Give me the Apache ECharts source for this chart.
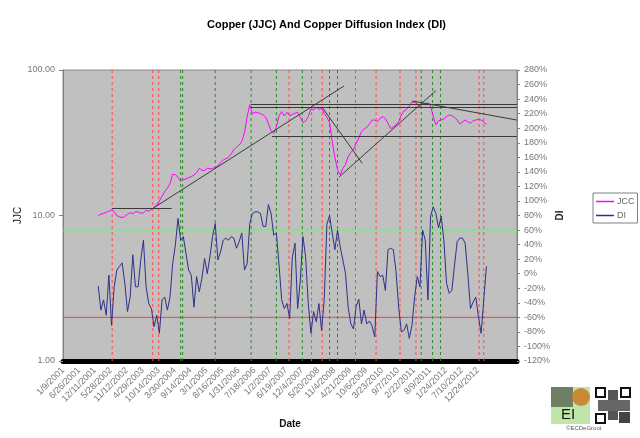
<!DOCTYPE html>
<html>
<head>
<meta charset="utf-8">
<script src="https://cdn.jsdelivr.net/npm/echarts@6/dist/echarts.min.js"></script>
<style>html,body{margin:0;padding:0;background:#fff}#c{width:640px;height:438px}</style>
</head>
<body>
<div id="c"></div>
<script>
// x-axis tick labels (one every 24 weekly rows)
const tickLabels = ['1/9/2001','6/26/2001','12/11/2001','5/28/2002','11/12/2002','4/29/2003','10/14/2003','3/30/2004','9/14/2004','3/1/2005','8/16/2005','1/31/2006','7/18/2006','1/2/2007','6/19/2007','12/4/2007','5/20/2008','11/4/2008','4/21/2009','10/6/2009','3/23/2010','9/7/2010','2/22/2011','8/9/2011','1/24/2012','7/10/2012','12/24/2012'];
const weeksPerLabel = 24;
const axisWeeks = 683;
const firstWeek = 53;   // week index of first sample
const stepWeeks = 4;    // sampling step (weeks)

// JCC price (left log axis)
const jcc = [9.98,10.2,10.35,10.5,10.7,10.9,10.6,9.98,9.8,9.66,
 9.87,10.2,10.45,10.3,10.6,10.6,10.35,10.45,10.85,10.7,
 11.0,11.4,11.8,12.6,13.6,14.6,15.4,16.6,19.2,19.1,
 18.3,17.2,17.7,17.8,18.2,18.5,19.0,19.7,21.1,20.5,
 20.3,21.2,20.9,21.1,21.4,21.9,23.1,24.0,
 24.6,25.1,26.5,28.4,29.4,30.5,32.3,37.1,47.8,57.8,
 49.8,51.4,50.9,50.1,49.1,47.3,43.0,38.3,36.7,40.4,
 48.5,51.7,48.3,51.2,48.5,49.6,50.4,51.2,47.3,43.5,
 44.6,47.8,54.2,53.1,55.5,53.7,54.5,50.4,47.3,43.5,
 32.2,25.1,20.7,19.0,21.0,22.5,25.4,27.1,28.5,31.3,34.0,
 37.7,39.3,40.4,42.6,45.3,45.3,44.1,46.5,47.8,46.3,
 43.0,39.5,40.8,41.9,44.1,49.1,52.3,53.7,56.6,60.3,
 59.9,58.4,56.0,59.0,57.5,59.6,56.6,47.8,41.9,44.9,
 45.3,46.0,47.8,49.1,48.5,47.3,45.3,42.6,43.9,45.3,
 44.1,43.0,44.9,45.3,45.8,45.3,43.9,42.3];

// Diffusion index, % (right axis)
const di = [-17,-50,-36,-57,-2,-71,-18,5,10,15,
 -13,-52,-32,26,-18,-18,19,46,-18,-41,
 -48,-73,-57,-82,-36,-32,-50,-32,14,39,
 76,46,51,28,5,-2,-46,-4,-25,-6,
 21,0,23,51,69,19,30,46,
 49,46,51,49,35,44,56,5,14,69,
 83,85,85,83,65,65,95,83,53,56,
 12,-36,-48,-41,-62,23,42,-48,-9,51,
 23,-41,-82,-52,-66,-41,-78,-36,68,80,
 56,33,60,37,19,0,-46,-69,-76,-45,-35,
 -69,-50,-69,-65,-72,-87,3,-4,-2,-23,
 33,35,33,3,-46,-80,-78,-69,-89,-71,
 -32,-4,-18,60,46,-36,79,92,83,63,
 79,46,-13,-27,-23,12,44,49,49,42,
 0,-48,-39,-32,-59,-82,-36,10];

// signal lines (week index)
const redSignals = [74,135,144,340,374,390,440,471,507,531,626,633];
const greenSignals = [177,180,229,283,321,360,401,413,539,556,568];
// DI threshold levels (%)
const upperLevel = 60, lowerLevel = -60;
const diMin = -120, diMax = 280;
// trend / level lines drawn on JCC: [week1, price1, week2, price2]
const trendLines = [
  [73.7,11.26,163.5,11.26],
  [136.1,11.26,422.6,77.6],
  [282.7,58.1,682.7,58.1],
  [282.7,55.5,682.7,55.5],
  [314.3,35.1,682.7,35.1],
  [389.9,55.3,450.1,22.85],
  [415.3,18.39,560.9,72.1],
  [525.3,61.2,682.7,45.3]
];

const font = 'Liberation Sans, Arial, sans-serif';
const chart = echarts.init(document.getElementById('c'), null, {renderer:'canvas'});

const jccData = jcc.map((v,i)=>[firstWeek+i*stepWeeks, v]);
const diData = di.map((v,i)=>[firstWeek+i*stepWeeks, v]);
const vertData = ws => ws.flatMap(w=>[[w,diMin],[w,diMax],[w,'-']]);
const horizData = lv => [[0,lv],[axisWeeks,lv]];

function guide(name, yIdx, data, style, z){
  return {name:name, type:'line', yAxisIndex:yIdx, data:data, symbol:'none', showSymbol:false, silent:true,
    connectNulls:false, lineStyle:style, z:z, tooltip:{show:false}};
}

chart.setOption({
  animation:false,
  backgroundColor:'#fff',
  textStyle:{fontFamily:font},
  title:{text:'Copper (JJC) And Copper Diffusion Index (DI)', left:202, top:14,
    textStyle:{fontSize:11, fontWeight:'bold', color:'#000', fontFamily:font}},
  grid:{left:63, right:123, top:70, bottom:77, show:true, backgroundColor:'#c0c0c0', borderColor:'#8a8a8a', borderWidth:1},
  legend:{data:['JCC','DI'], orient:'vertical', left:593, top:193, padding:[4,3,3,3], itemGap:5,
    itemWidth:18, itemHeight:1.5, icon:'rect', backgroundColor:'#fff', borderColor:'#808080', borderWidth:1,
    textStyle:{fontSize:9, color:'#666', fontFamily:font, padding:[0,0,0,-2]}},
  xAxis:{type:'value', min:0, max:axisWeeks, interval:weeksPerLabel,
    name:'Date', nameLocation:'middle', nameGap:58, nameMoveOverlap:false,
    nameTextStyle:{fontSize:10, fontWeight:'bold', color:'#111', fontFamily:font},
    axisLine:{show:true, onZero:false, lineStyle:{color:'#000', width:5}},
    axisTick:{show:false}, splitLine:{show:false},
    axisLabel:{rotate:45, fontSize:9, color:'#777', margin:8, showMaxLabel:false, fontFamily:font,
      formatter:function(v){ const k=v/weeksPerLabel; return (Number.isInteger(k)&&k<tickLabels.length)?tickLabels[k]:''; }}},
  yAxis:[
    {type:'log', logBase:10, min:1, max:100, position:'left',
     name:'JJC', nameLocation:'middle', nameGap:40, nameRotate:90, nameMoveOverlap:false,
     nameTextStyle:{fontSize:10, color:'#222', fontFamily:font},
     axisLine:{show:true, lineStyle:{color:'#808080'}},
     axisTick:{show:true, inside:false, length:4, lineStyle:{color:'#808080'}},
     splitLine:{show:false}, minorTick:{show:false},
     axisLabel:{fontSize:9, color:'#777', margin:8, fontFamily:font, formatter:v=>Number(v).toFixed(2)}},
    {type:'value', min:diMin, max:diMax, interval:20, position:'right',
     name:'DI', nameLocation:'middle', nameGap:38, nameRotate:90, nameMoveOverlap:false,
     nameTextStyle:{fontSize:10, fontWeight:'bold', color:'#222', fontFamily:font},
     axisLine:{show:true, lineStyle:{color:'#808080'}},
     axisTick:{show:true, inside:false, length:3, lineStyle:{color:'#808080'}},
     splitLine:{show:false},
     axisLabel:{fontSize:9, color:'#777', margin:7, fontFamily:font, formatter:'{value}%'}}
  ],
  series:[
    guide('redSignals', 1, vertData(redSignals), {color:'#ff4a4a', type:[3,3], width:1}, 2),
    guide('greenSignals', 1, vertData(greenSignals), {color:'#2a8a2a', type:[3,3], width:1}, 2),
    guide('upperLevel', 1, horizData(upperLevel), {color:'#6cf06c', type:'solid', width:1}, 2),
    guide('lowerLevel', 1, horizData(lowerLevel), {color:'#ff3c3c', type:'solid', width:1}, 2),
    {name:'DI', type:'line', yAxisIndex:1, data:diData, symbol:'none', showSymbol:false,
     lineStyle:{color:'#30308a', width:1}, itemStyle:{color:'#30308a'}, z:3},
    {name:'JCC', type:'line', yAxisIndex:0, data:jccData, symbol:'none', showSymbol:false,
     lineStyle:{color:'#ff00ff', width:1}, itemStyle:{color:'#ff00ff'}, z:4,
     markLine:{silent:true, symbol:['none','none'], label:{show:false}, animation:false,
       lineStyle:{color:'#3a3a3a', type:'solid', width:1},
       data: trendLines.map(t=>[{coord:[t[0],t[1]]},{coord:[t[2],t[3]]}])}}
  ],
  graphic:[
    {type:'rect', shape:{x:551,y:387,width:39,height:37}, style:{fill:'#bfe6a8'}},
    {type:'rect', shape:{x:551,y:387,width:22,height:20}, style:{fill:'#6f7f63'}},
    {type:'circle', shape:{cx:581,cy:397,r:9}, style:{fill:'#c98a35'}},
    {type:'text', left:561, top:407, style:{text:'EI', fontSize:15, fill:'#111', fontFamily:font}},
    {type:'rect', shape:{x:595,y:387,width:36,height:37}, style:{fill:'#fff'}},
    {type:'rect', shape:{x:596,y:388,width:9,height:9}, style:{fill:'none', stroke:'#111', lineWidth:2}},
    {type:'rect', shape:{x:621,y:388,width:9,height:9}, style:{fill:'none', stroke:'#111', lineWidth:2}},
    {type:'rect', shape:{x:596,y:414,width:9,height:9}, style:{fill:'none', stroke:'#111', lineWidth:2}},
    {type:'rect', shape:{x:608,y:390,width:10,height:30}, style:{fill:'#555'}},
    {type:'rect', shape:{x:598,y:400,width:32,height:11}, style:{fill:'#666'}},
    {type:'rect', shape:{x:619,y:412,width:11,height:11}, style:{fill:'#444'}},
    {type:'text', left:566, top:425, style:{text:'©ECDeGroot', fontSize:6, fill:'#555', fontFamily:font}}
  ]
});
</script>
</body>
</html>
